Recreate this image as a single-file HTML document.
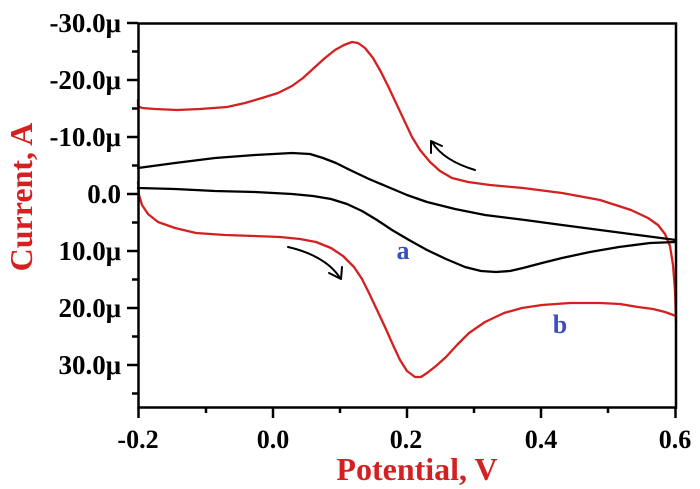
<!DOCTYPE html>
<html><head><style>
html,body{margin:0;padding:0;background:#fff;}
svg{display:block;}
text{font-family:"Liberation Serif",serif;font-weight:bold;}
</style></head><body>
<svg width="700" height="489" viewBox="0 0 700 489" xmlns="http://www.w3.org/2000/svg">
<g fill="none" stroke-linejoin="round" stroke-linecap="round" stroke-width="2.3">
<polyline stroke="#d42020" points="676,322 675,290 673,265 670,246 665,234 658,225 648,218 631,210 600,200 562,193 523,188 490,185 468,182 452,178 440,171 430,162 420,150 412,137 404,120 396,103 388,86 381,72 373,58 365,48 358,43 352,42 344,45 335,50 325,58 315,67 303,78 292,86 278,93 262,98 245,103 227,107 200,109 177,110 155,109 142,108 138,106 138,100"/>
<polyline stroke="#d42020" points="138,182 139,195 142,205 148,214 158,222 175,228 196,233 225,235 254,236 280,237 300,239 316,242 331,248 343,256 354,267 362,279 369,293 377,310 385,327 393,345 400,360 407,371 415,377 421,377 427,373 436,366 446,357 457,345 469,333 485,322 504,313 522,308 542,305 570,303 600,303 620,304 638,307 653,309 665,312 676,316"/>
<polyline stroke="#000" points="138,168 175,163 215,158 255,155 292,153 310,154 323,158 336,163 350,170 369,179 388,187 407,195 427,202 455,209 485,215 525,220 562,225 600,230 638,235 676,240"/>
<polyline stroke="#000" points="138,188 175,189 215,191 255,192 292,194 313,196 331,199 347,204 362,211 377,220 392,230 409,240 427,250 446,259 465,267 481,271 496,272 510,271 523,268 542,263 562,258 590,252 619,247 650,243 676,242"/>
<path stroke="#000" stroke-width="2" d="M475,170 C455,164 440,155 432,142"/>
<path stroke="#000" stroke-width="2" d="M431,153 L431,141 L442,146"/>
<path stroke="#000" stroke-width="2" d="M288,247 C310,252 330,262 340,278"/>
<path stroke="#000" stroke-width="2" d="M329,273 L341,279 L342,267"/>
</g>
<rect x="138.5" y="23.5" width="537.5" height="384" fill="none" stroke="#000" stroke-width="2.5"/>
<g stroke="#000" stroke-width="2.5">
<line x1="127" y1="23" x2="138" y2="23"/><line x1="127" y1="80" x2="138" y2="80"/><line x1="127" y1="137" x2="138" y2="137"/><line x1="127" y1="194" x2="138" y2="194"/><line x1="127" y1="251" x2="138" y2="251"/><line x1="127" y1="308" x2="138" y2="308"/><line x1="127" y1="365" x2="138" y2="365"/>
<line x1="132" y1="51.5" x2="138" y2="51.5"/><line x1="132" y1="108.5" x2="138" y2="108.5"/><line x1="132" y1="165.5" x2="138" y2="165.5"/><line x1="132" y1="222.5" x2="138" y2="222.5"/><line x1="132" y1="279.5" x2="138" y2="279.5"/><line x1="132" y1="336.5" x2="138" y2="336.5"/><line x1="132" y1="393.5" x2="138" y2="393.5"/>
<line x1="138.5" y1="407" x2="138.5" y2="418"/><line x1="273" y1="407" x2="273" y2="418"/><line x1="407" y1="407" x2="407" y2="418"/><line x1="541" y1="407" x2="541" y2="418"/><line x1="675.5" y1="407" x2="675.5" y2="418"/>
<line x1="206" y1="407" x2="206" y2="413"/><line x1="340" y1="407" x2="340" y2="413"/><line x1="474" y1="407" x2="474" y2="413"/><line x1="608" y1="407" x2="608" y2="413"/>
</g>
<g font-size="27" text-anchor="end" fill="#000">
<text x="121" y="32">-30.0μ</text><text x="121" y="89">-20.0μ</text><text x="121" y="146">-10.0μ</text><text x="121" y="203">0.0</text><text x="121" y="260">10.0μ</text><text x="121" y="317">20.0μ</text><text x="121" y="374">30.0μ</text>
</g>
<g font-size="26" text-anchor="middle" fill="#000">
<text x="138" y="448">-0.2</text><text x="273" y="448">0.0</text><text x="406" y="448">0.2</text><text x="541" y="448">0.4</text><text x="675" y="448">0.6</text>
</g>
<text x="417" y="480" font-size="32" text-anchor="middle" fill="#d42020">Potential, V</text>
<text transform="translate(32,197) rotate(-90)" font-size="32" text-anchor="middle" fill="#d42020">Current, A</text>
<text x="403" y="259" font-size="26" text-anchor="middle" fill="#3a4fc0">a</text>
<text x="560" y="333" font-size="26" text-anchor="middle" fill="#3a4fc0">b</text>
</svg>
</body></html>
